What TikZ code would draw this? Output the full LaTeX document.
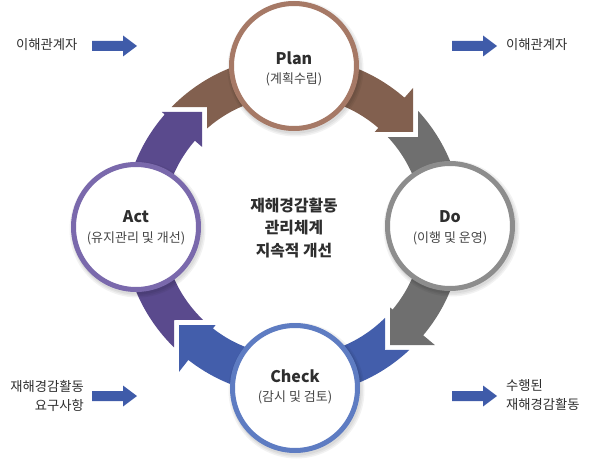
\documentclass[tikz,border=0pt]{standalone}
\usepackage{fontspec}
\setmainfont{Noto Sans CJK KR}
\usetikzlibrary{calc}
\definecolor{brownband}{HTML}{82604F}
\definecolor{grayband}{HTML}{6F6F6F}
\definecolor{blueband}{HTML}{435EAB}
\definecolor{purpleband}{HTML}{5A4A8D}
\definecolor{planborder}{HTML}{A67966}
\definecolor{doborder}{HTML}{8D8D8D}
\definecolor{checkborder}{HTML}{5E7CC2}
\definecolor{actborder}{HTML}{7A69AC}
\definecolor{arrowblue}{HTML}{3F5BA9}
\definecolor{textdark}{HTML}{2E2E2E}
\definecolor{textmid}{HTML}{454545}
\tikzset{
  cyc/.style={circle, fill=white, line width=5pt, minimum size=125pt, inner sep=0pt},
  ttl/.style={font=\bfseries\fontsize{16}{19}\selectfont, text=textdark, inner sep=0pt},
  subt/.style={font=\fontsize{13}{15}\selectfont, text=textmid, inner sep=0pt},
  sidelbl/.style={font=\fontsize{13.3}{19}\selectfont, text=textdark, inner sep=0pt},
  midtext/.style={font=\bfseries\fontsize{15.8}{22.5}\selectfont, align=center, text=textdark, inner sep=0pt},
  softshadow/.style={fill=black, opacity=0.05},
  sidearr/.pic={\fill[arrowblue] (0,-5) -- (31,-5) -- (31,-10.5) -- (45,0) -- (31,10.5) -- (31,5) -- (0,5) -- cycle;}
}
\begin{document}
\begin{tikzpicture}[x=1pt,y=-1pt]
\useasboundingbox (0,0) rectangle (590,460);
\coordinate (C) at (293,226);

% bands
\fill[brownband] ($(C)+(-135.6:170)$) arc[start angle=-135.6, end angle=-49, radius=170]
  -- (413,88) -- (413,132) -- (374.7,132) -- ($(C)+(-49:130)$)
  arc[start angle=-49, end angle=-131.4, radius=130] -- (207,107) -- cycle;
\fill[grayband] ($(C)+(-42.66:170)$) arc[start angle=-42.66, end angle=40, radius=170]
  -- (434.8,345) -- (390,345) -- (390,307.4) -- ($(C)+(40:130)$)
  arc[start angle=40, end angle=-43.2, radius=130] -- (418,137) -- cycle;
\fill[blueband] ($(C)+(46.83:170)$) arc[start angle=46.83, end angle=128, radius=170]
  -- (179,371.9) -- (179,325) -- (215.6,325) -- ($(C)+(128:130)$)
  arc[start angle=128, end angle=44.95, radius=130] -- (385,350) -- cycle;
\fill[purpleband] ($(C)+(134.4:170)$) arc[start angle=134.4, end angle=221, radius=170]
  -- (161.8,112) -- (202,112) -- (202,146.9) -- ($(C)+(221:130)$)
  arc[start angle=221, end angle=133.7, radius=130] -- (174,320) -- cycle;

% shadows
\foreach \p in {(294,66),(450,226),(295,388),(136,227)}{
  \fill[softshadow] \p ++(1.5,2.5) circle[radius=68];
  \fill[softshadow] \p ++(1.5,2.5) circle[radius=66.5];
  \fill[softshadow] \p ++(1,2) circle[radius=65.5];
}

% circles
\node[cyc, draw=planborder] (plan) at (294,66) {};
\node[cyc, draw=doborder] (do) at (450,226) {};
\node[cyc, draw=checkborder] (check) at (295,388) {};
\node[cyc, draw=actborder] (act) at (136,227) {};

\node[ttl] (plant) at (294,58) {Plan};
\node[subt] (plans) at (294,79.5) {(계획수립)};
\node[ttl] (dot) at (450,217) {Do};
\node[subt] (dos) at (450,238) {(이행 및 운영)};
\node[ttl] (checkt) at (295,376) {Check};
\node[subt] (checks) at (295,397) {(감시 및 검토)};
\node[ttl] (actt) at (136,217) {Act};
\node[subt] (acts) at (136,238) {(유지관리 및 개선)};

\node[midtext] (mid) at (294,228) {재해경감활동\\관리체계\\지속적 개선};

% side labels
\node[sidelbl, anchor=west] (lt) at (16,45) {이해관계자};
\node[sidelbl, anchor=west] (rt) at (506,45) {이해관계자};
\node[sidelbl, anchor=east, align=right] (lb) at (84,396) {재해경감활동\\요구사항};
\node[sidelbl, anchor=west, align=left] (rb) at (506,395) {수행된\\재해경감활동};

\pic at (92,46) {sidearr};
\pic at (452,46) {sidearr};
\pic at (92,396) {sidearr};
\pic at (452,396) {sidearr};
\end{tikzpicture}
\end{document}
